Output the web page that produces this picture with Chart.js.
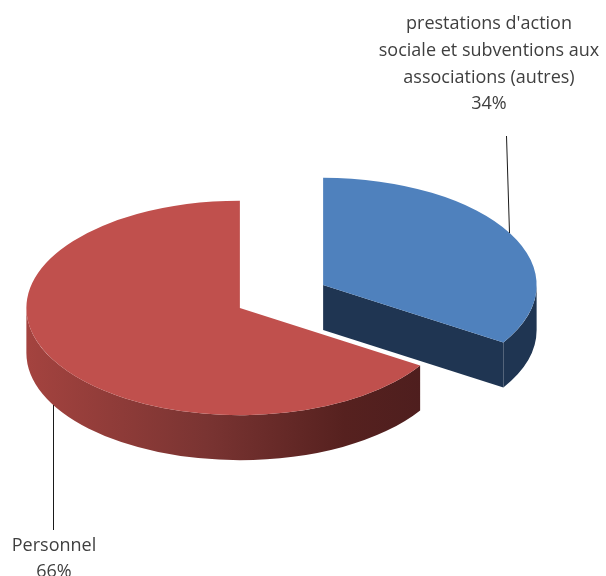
<!DOCTYPE html>
<html>
<head>
<meta charset="utf-8">
<script src="https://cdn.jsdelivr.net/npm/chart.js@4.4.1/dist/chart.umd.min.js"></script>
<style>
  html, body { margin: 0; padding: 0; background: #fff; }
  #wrap { width: 606px; height: 576px; position: relative; }
</style>
</head>
<body>
<div id="wrap"><canvas id="pieChart"></canvas></div>
<script>
// data
const categories = ["prestations d'action sociale et subventions aux associations (autres)", 'Personnel'];
const shares = [34, 66];
const labelLines = [
  ["prestations d'action", 'sociale et subventions aux', 'associations (autres)', '34%'],
  ['Personnel', '66%'],
];

const topColors = ['#4f81bd', '#c0504d'];

// 3d look
const CX = 281.5, CY = 296.5;   // pie centre on screen
const RX = 213.5;               // horizontal radius
const TILT = 0.502;             // vertical squash
const DEPTH = 45;               // side height
const EXPLODE = 47.5;           // slice pull-out

function sliceGeom(arc) {
  const mid = (arc.startAngle + arc.endAngle) / 2;
  return {
    cx: CX + Math.cos(mid) * EXPLODE,
    cy: CY + Math.sin(mid) * EXPLODE * TILT,
    a0: arc.startAngle,
    a1: arc.endAngle,
  };
}

function drawWalls(ctx, g, i) {
  const ry = RX * TILT;
  let fill;
  if (i === 0) {
    fill = '#1f3552';
  } else {
    fill = ctx.createLinearGradient(g.cx - RX, 0, g.cx + RX * 0.86, 0);
    fill.addColorStop(0, '#a4433f');
    fill.addColorStop(0.45, '#7a3432');
    fill.addColorStop(0.8, '#56211f');
    fill.addColorStop(1, '#4e1e1e');
  }
  ctx.fillStyle = fill;

  // cut face at end angle
  if (Math.cos(g.a1) > 0.01) {
    const ex = g.cx + RX * Math.cos(g.a1), ey = g.cy + ry * Math.sin(g.a1);
    ctx.beginPath();
    ctx.moveTo(g.cx, g.cy);
    ctx.lineTo(ex, ey);
    ctx.lineTo(ex, ey + DEPTH);
    ctx.lineTo(g.cx, g.cy + DEPTH);
    ctx.closePath();
    ctx.fill();
  }
  if (Math.cos(g.a0) < -0.01) {
    const sx = g.cx + RX * Math.cos(g.a0), sy = g.cy + ry * Math.sin(g.a0);
    ctx.beginPath();
    ctx.moveTo(g.cx, g.cy);
    ctx.lineTo(sx, sy);
    ctx.lineTo(sx, sy + DEPTH);
    ctx.lineTo(g.cx, g.cy + DEPTH);
    ctx.closePath();
    ctx.fill();
  }

  // outer wall, only the front half of the rim shows
  [0, Math.PI * 2].forEach(function (base) {
    const s = Math.max(g.a0, base), e = Math.min(g.a1, base + Math.PI);
    if (e <= s) return;
    ctx.beginPath();
    ctx.ellipse(g.cx, g.cy, RX, ry, 0, s, e, false);
    ctx.ellipse(g.cx, g.cy + DEPTH, RX, ry, 0, e, s, true);
    ctx.closePath();
    ctx.fill();
  });
}

const pie3d = {
  id: 'pie3d',
  beforeDatasetsDraw(chart) {
    const ctx = chart.ctx;
    const arcs = chart.getDatasetMeta(0).data;
    arcs.forEach(function (arc, i) {
      const g = sliceGeom(arc);
      ctx.save();
      drawWalls(ctx, g, i);
      ctx.restore();

      ctx.save();
      ctx.translate(g.cx, g.cy);
      ctx.scale(RX / arc.outerRadius, RX * TILT / arc.outerRadius);
      ctx.translate(-arc.x, -arc.y);
      arc.draw(ctx);
      ctx.restore();
    });
    return false;
  },
  afterDraw(chart) {
    const ctx = chart.ctx;
    ctx.save();
    ctx.strokeStyle = '#1a1a1a';
    ctx.lineWidth = 1;
    ctx.beginPath();
    ctx.moveTo(506.5, 136);
    ctx.lineTo(509.5, 233);
    ctx.moveTo(53.5, 405);
    ctx.lineTo(53.5, 530);
    ctx.stroke();

    ctx.fillStyle = '#3f3f3f';
    ctx.font = '18px "Open Sans"';
    ctx.textAlign = 'center';
    ctx.textBaseline = 'alphabetic';
    labelLines[0].forEach(function (t, k) {
      ctx.fillText(t, 489, 29 + k * 26.8);
    });
    labelLines[1].forEach(function (t, k) {
      ctx.fillText(t, 54, 551 + k * 26);
    });
    ctx.restore();
  },
};

new Chart(document.getElementById('pieChart'), {
  type: 'pie',
  data: {
    labels: categories,
    datasets: [{
      data: shares,
      backgroundColor: topColors,
      borderWidth: 0,
    }],
  },
  options: {
    responsive: true,
    maintainAspectRatio: false,
    animation: false,
    events: [],
    plugins: {
      legend: { display: false },
      tooltip: { enabled: false },
    },
  },
  plugins: [pie3d],
});
</script>
</body>
</html>
